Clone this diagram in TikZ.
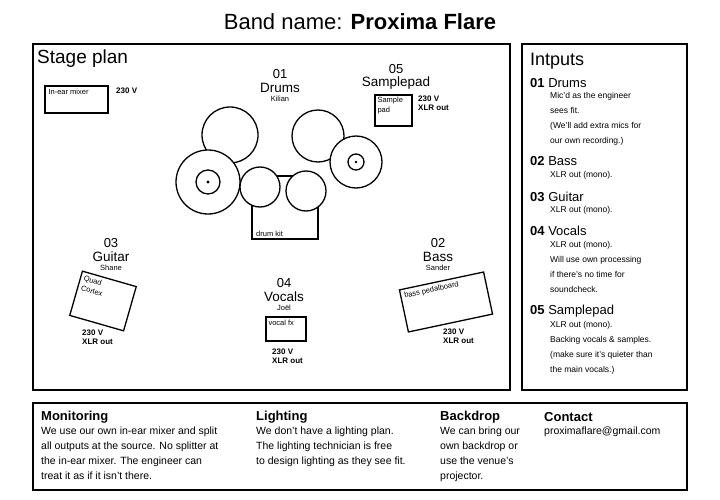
\documentclass[tikz,border=0pt]{standalone}
\usepackage{fontspec}
\setmainfont{Liberation Sans}
\usepackage{tikz}
\usetikzlibrary{calc}

\tikzset{
  frame/.style={draw, line width=1.6pt},
  drum/.style={draw, line width=1.3pt, fill=white, circle, minimum size=#1, inner sep=0pt},
  num/.style={font=\fontsize{13}{13}\selectfont, inner sep=0pt},
  head/.style={font=\fontsize{13.5}{13.5}\selectfont, inner sep=0pt},
  who/.style={font=\fontsize{7.5}{7.5}\selectfont, inner sep=0pt},
  power/.style={font=\bfseries\fontsize{8}{8.5}\selectfont, inner sep=0pt, align=left, anchor=north west},
  tag/.style={font=\fontsize{7.5}{10}\selectfont, inner xsep=4pt, inner ysep=4pt, align=left, anchor=north west},
  inp/.style={font=\fontsize{13}{13}\selectfont, inner sep=0pt, anchor=west},
  inpline/.style={font=\fontsize{8.5}{15}\selectfont, inner sep=0pt, anchor=north west, align=left},
  foot/.style={font=\fontsize{13}{13}\selectfont, inner sep=0pt, anchor=west},
  footline/.style={font=\fontsize{10.5}{15}\selectfont, inner sep=0pt, anchor=north west, align=left}
}

\begin{document}
\begin{tikzpicture}[x=1pt,y=-1pt]
  \useasboundingbox (0,0) rectangle (720,500);

  \node (title) at (360,22) {\fontsize{22}{22}\selectfont Band name: \textbf{Proxima Flare}};

  % frames
  \draw [frame] (33,44) rectangle (510,390);
  \draw [frame] (522,44) rectangle (687,390);
  \draw [frame] (33,403) rectangle (687,490);

  % stage plan
  \node (stage) [anchor=west, inner sep=0pt] at (37,59) {\fontsize{19}{19}\selectfont Stage plan};

  \node (mixer) [draw, line width=1.3pt, minimum width=63pt, minimum height=27pt] at (76.5,99.5) {};
  \node [tag] at (mixer.north west) {In-ear mixer};
  \node (mixpow) [power, anchor=west] at (116,91) {230 V};

  % drums
  \node (drumnum) [num] at (280,74) {01};
  \node (drumhead) [head] at (280,88) {Drums};
  \node (kilian) [who] at (280,98.5) {Kilian};
  \draw [line width=1.3pt] (252,176) rectangle (318,239);
  \node (kit) [who, anchor=south west] at (256,237) {drum kit};
  \node (tomA) [drum=56pt] at (230,135) {};
  \node (tomB) [drum=52pt] at (318,136) {};
  \node (crash) [drum=64pt] at (208,182) {};
  \node (crashbell) [drum=24pt] at (crash) {};
  \fill (crash) circle (1.6pt);
  \node (snare) [drum=40pt] at (260,187) {};
  \node (floor) [drum=40pt] at (306,191) {};
  \node (ride) [drum=52pt] at (356,162) {};
  \node (ridebell) [drum=16pt] at (ride) {};
  \fill (ride) circle (1.4pt);

  % samplepad
  \node (padnum) [num] at (396,69) {05};
  \node (padhead) [head] at (396,83) {Samplepad};
  \node (pad) [draw, line width=1.3pt, minimum width=37pt, minimum height=31pt] at (393.5,110.5) {};
  \node [tag, inner xsep=3pt, inner ysep=3pt] at (pad.north west) {Sample\\pad};
  \node (padpow) [power] at (418,96) {230 V\\XLR out};

  % guitar
  \node (guitnum) [num] at (111,243) {03};
  \node (guithead) [head] at (111,257) {Guitar};
  \node (shane) [who] at (111,267.5) {Shane};
  \node (quad) [draw, line width=1.3pt, minimum width=56pt, minimum height=46pt, rotate=-16] at (103,301) {};
  \node [tag, rotate=-16] at (quad.north west) {Quad\\Cortex};
  \node (guitpow) [power] at (82,330) {230 V\\XLR out};

  % vocals
  \node (vocnum) [num] at (284,283) {04};
  \node (vochead) [head] at (284,297) {Vocals};
  \node (joel) [who] at (284,307.5) {Joël};
  \node (vocfx) [draw, line width=1.3pt, minimum width=40pt, minimum height=24pt] at (286,329) {};
  \node [tag, inner xsep=3pt] at (vocfx.north west) {vocal fx};
  \node (vocpow) [power] at (272,349) {230 V\\XLR out};

  % bass
  \node (bassnum) [num] at (438,243) {02};
  \node (basshead) [head] at (438,257) {Bass};
  \node (sander) [who] at (438,267.5) {Sander};
  \node (board) [draw, line width=1.3pt, minimum width=86pt, minimum height=43pt, rotate=12] at (446,302) {};
  \node [tag, rotate=12] at (board.north west) {bass pedalboard};
  \node (basspow) [power] at (443,329) {230 V\\XLR out};

  % inputs
  \node (inputs) [anchor=west, inner sep=0pt] at (530,61) {\fontsize{18}{18}\selectfont Intputs};
  \node (in1) [inp] at (530,83) {\textbf{01} Drums};
  \node [inpline] at (550,92) {Mic'd as the engineer\\sees fit.\\(We'll add extra mics for\\our own recording.)};
  \node (in2) [inp] at (530,161) {\textbf{02} Bass};
  \node [inpline] at (550,171) {XLR out (mono).};
  \node (in3) [inp] at (530,197) {\textbf{03} Guitar};
  \node [inpline] at (550,206) {XLR out (mono).};
  \node (in4) [inp] at (530,231) {\textbf{04} Vocals};
  \node [inpline] at (550,241) {XLR out (mono).\\Will use own processing\\if there's no time for\\soundcheck.};
  \node (in5) [inp] at (530,311) {\textbf{05} Samplepad};
  \node [inpline] at (550,321) {XLR out (mono).\\Backing vocals \& samples.\\(make sure it's quieter than\\the main vocals.)};

  % footer
  \node (mon) [foot] at (41,417) {\textbf{Monitoring}};
  \node [footline] at (41,427) {We use our own in-ear mixer and split\\all outputs at the source. No splitter at\\the in-ear mixer. The engineer can\\treat it as if it isn't there.};
  \node (light) [foot] at (256,417) {\textbf{Lighting}};
  \node [footline] at (256,427) {We don't have a lighting plan.\\The lighting technician is free\\to design lighting as they see fit.};
  \node (drop) [foot] at (440,417) {\textbf{Backdrop}};
  \node [footline] at (440,427) {We can bring our\\own backdrop or\\use the venue's\\projector.};
  \node (contact) [foot] at (544,417) {\textbf{Contact}};
  \node [footline] at (544,427) {proximaflare@gmail.com};
\end{tikzpicture}
\end{document}
